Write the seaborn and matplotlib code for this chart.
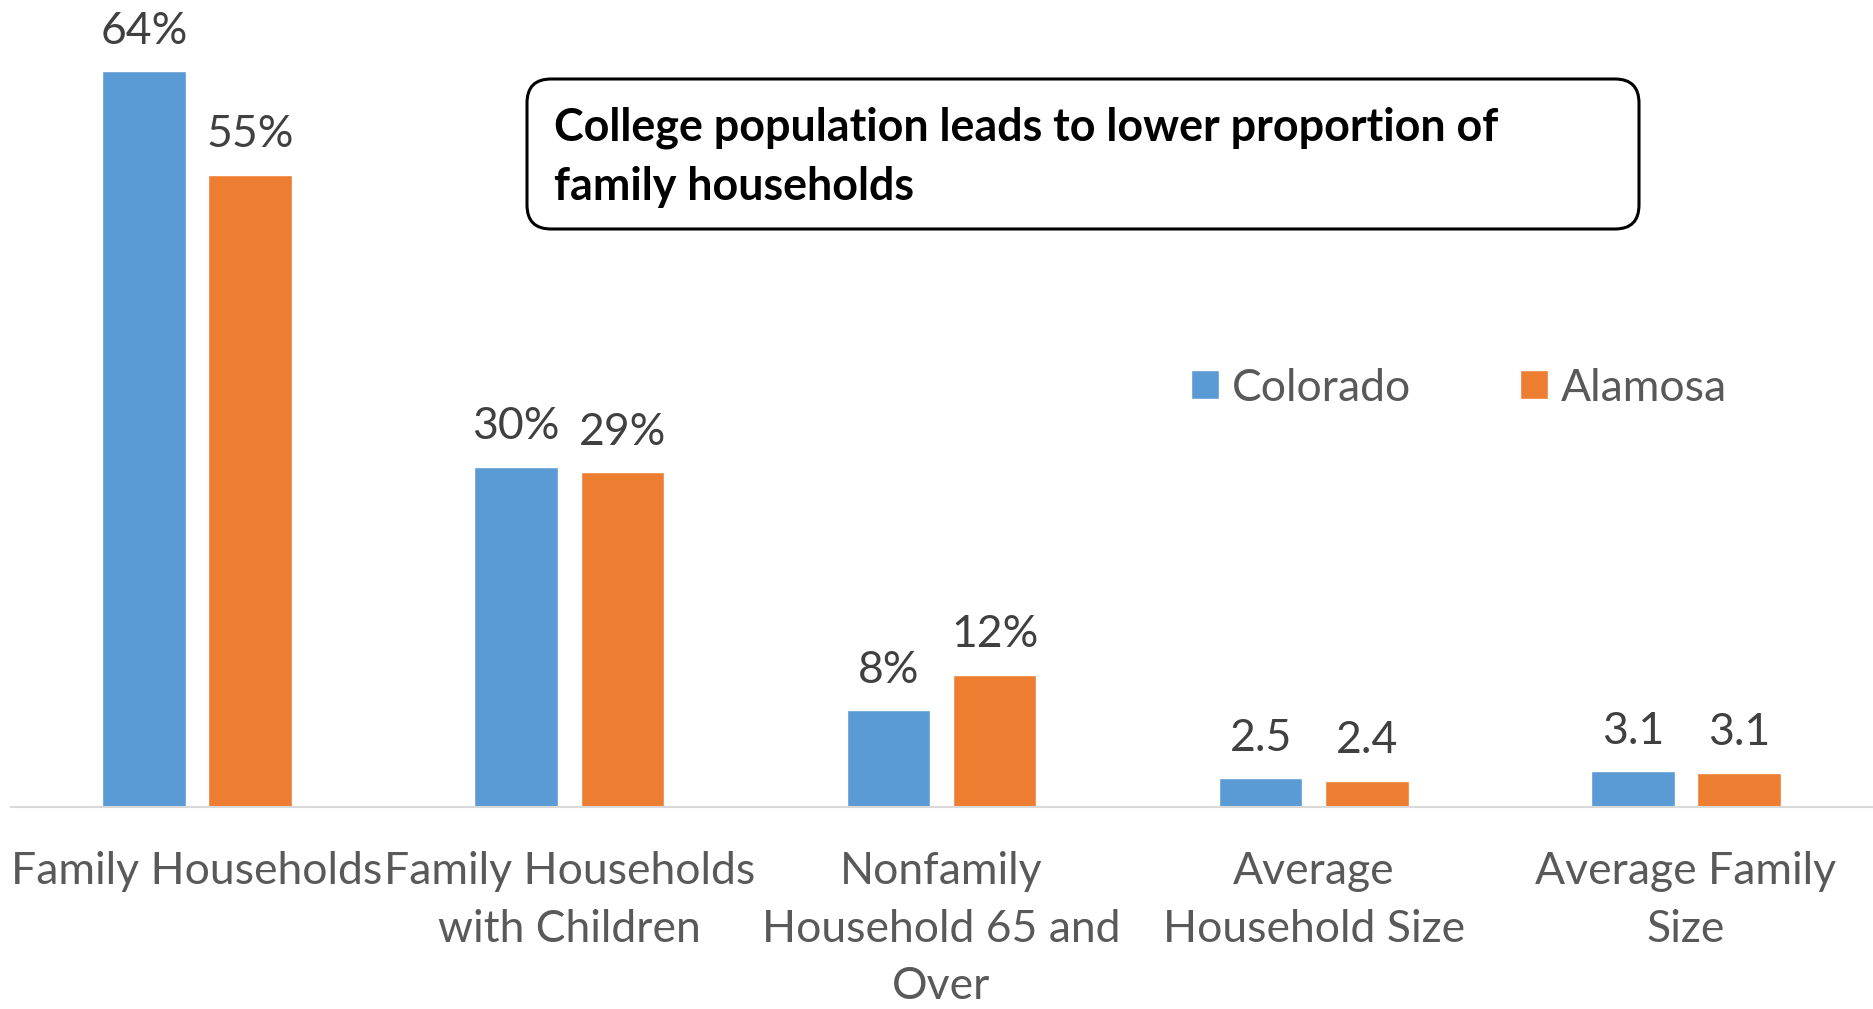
import matplotlib
matplotlib.use("Agg")
import matplotlib.pyplot as plt
from matplotlib.patches import FancyBboxPatch
from matplotlib.transforms import IdentityTransform
import pandas as pd
import seaborn as sns

# Data
categories = ["Family Households", "Family Households\nwith Children",
              "Nonfamily\nHousehold 65 and\nOver", "Average\nHousehold Size",
              "Average Family\nSize"]
colorado = [64.0, 29.6, 8.4, 2.5, 3.1]
alamosa = [55.0, 29.1, 11.5, 2.3, 3.0]
colorado_labels = ["64%", "30%", "8%", "2.5", "3.1"]
alamosa_labels = ["55%", "29%", "12%", "2.4", "3.1"]
series = ["Colorado", "Alamosa"]
colors = ["#5B9BD5", "#ED7D31"]
title = "College population leads to lower proportion of\nfamily households"

df = pd.DataFrame({
    "category": categories * 2,
    "value": colorado + alamosa,
    "series": [series[0]] * len(categories) + [series[1]] * len(categories),
})

sns.set_style("white")
plt.rcParams["font.family"] = ["Lato", "DejaVu Sans"]

W, H = 1874, 1009
fig = plt.figure(figsize=(W / 100, H / 100), dpi=100)
ax = fig.add_axes([11 / W, 202 / H, 1861 / W, 807 / H])

sns.barplot(data=df, x="category", y="value", hue="series", palette=colors,
            saturation=1, width=0.571, gap=0.2135, ax=ax, legend=True)

ax.set_xlim(-0.5, 4.5)
ax.set_ylim(0, 70.2)
ax.set_xlabel("")
ax.set_ylabel("")
ax.set_yticks([])
for s in ["left", "right", "top"]:
    ax.spines[s].set_visible(False)
ax.spines["bottom"].set_color("#D9D9D9")
ax.spines["bottom"].set_linewidth(1.5)
ax.tick_params(axis="x", length=0, pad=32, labelsize=32, labelcolor="#595959")
for lbl in ax.get_xticklabels():
    lbl.set_linespacing(1.5)

# Data labels
for cont, labs in zip(ax.containers, [colorado_labels, alamosa_labels]):
    ax.bar_label(cont, labels=labs, padding=14, fontsize=32, color="#404040")

# Legend
ax.legend(loc="center left", bbox_to_anchor=(1191 / W, 1 - 388 / H),
          bbox_transform=fig.transFigure, ncol=2, frameon=False, fontsize=32,
          handlelength=0.62, handleheight=0.62, handletextpad=0.3,
          columnspacing=2.45, borderpad=0, borderaxespad=0, labelcolor="#595959")

# Title box
box = FancyBboxPatch((527, H - 229), 1112, 150,
                     boxstyle="round,pad=0,rounding_size=24",
                     transform=IdentityTransform(), facecolor="white",
                     edgecolor="black", linewidth=2.2, zorder=5)
fig.patches.append(box)
fig.text(554 / W, 1 - 157 / H, title, ha="left", va="center", fontsize=32.3,
         fontweight="bold", color="black", linespacing=1.5, zorder=6)

fig.savefig("out.png", dpi=100)
